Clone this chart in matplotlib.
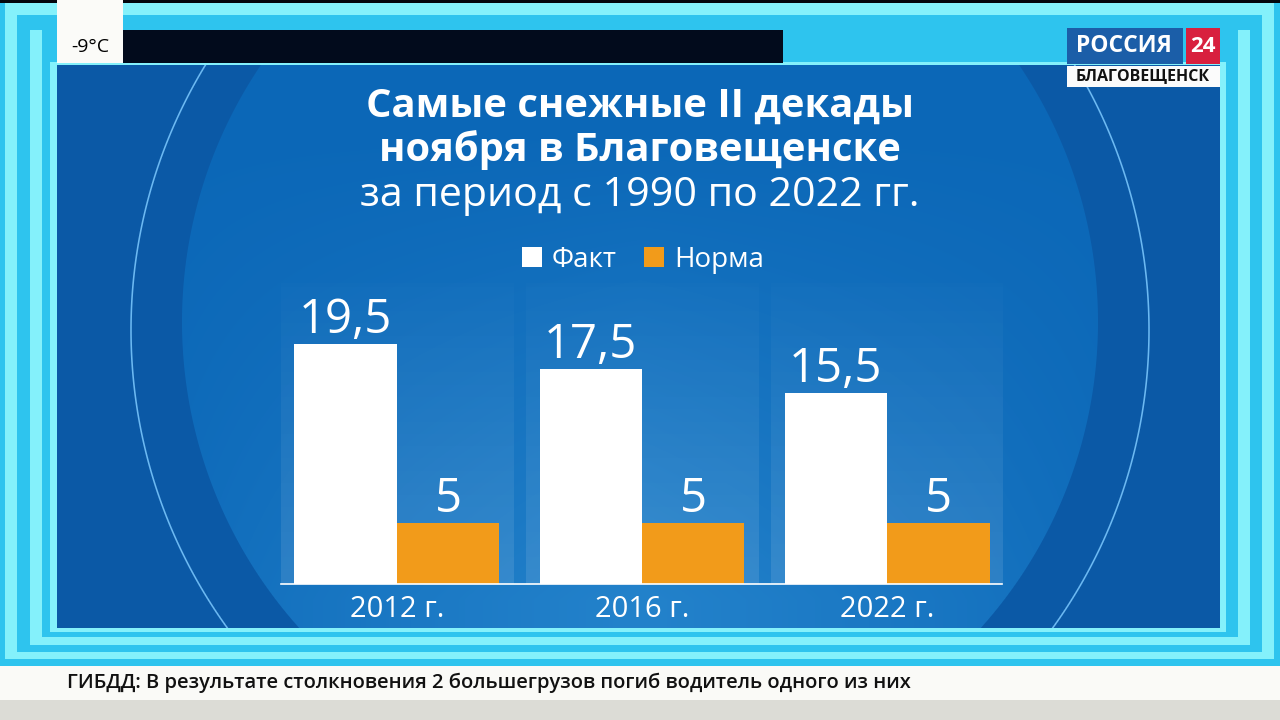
import numpy as np
import matplotlib
matplotlib.use('Agg')
import matplotlib.pyplot as plt

# ---------------- data ----------------
years = ['2012 г.', '2016 г.', '2022 г.']
fact = [19.5, 17.5, 15.5]
norm = [5, 5, 5]
fact_labels = ['19,5', '17,5', '15,5']
norm_labels = ['5', '5', '5']
series_names = ['Факт', 'Норма']
title_lines = ['Самые снежные II декады', 'ноября в Благовещенске']
subtitle = 'за период с 1990 по 2022 гг.'
ticker = 'ГИБДД: В результате столкновения 2 большегрузов погиб водитель одного из них'
temperature = '-9°C'
logo_main = 'РОССИЯ'
logo_num = '24'
logo_city = 'БЛАГОВЕЩЕНСК'

plt.rcParams['font.family'] = ['Open Sans', 'DejaVu Sans']

W, H = 1280, 720
fig = plt.figure(figsize=(12.8, 7.2), dpi=100)

# ---------------- background (broadcast frame) ----------------
bg = fig.add_axes([0, 0, 1, 1])
bg.set_xlim(0, W)
bg.set_ylim(H, 0)
bg.axis('off')


def rgb(h):
    return np.array([int(h[i:i + 2], 16) for i in (1, 3, 5)]) / 255.0


img = np.zeros((H, W, 3))


def fill(x0, y0, x1, y1, c):
    img[y0:y1, x0:x1] = rgb(c)


C1, C2 = '#2ec4ee', '#84f1fb'
fill(0, 0, W, 666, C1)
fill(5, 3, 1274, 659, C2)
fill(17, 15, 1262, 652, C1)
fill(30, 30, 1250, 645, C2)
fill(42, 30, 1238, 637, C1)
fill(50, 62, 1226, 632, C2)
fill(0, 0, W, 3, '#03060c')

# panel with circles
px0, py0, px1, py1 = 57, 65, 1220, 628
yy, xx = np.mgrid[py0:py1, px0:px1] + 0.5
outer = rgb('#0b59a6')
panel = np.ones(xx.shape + (3,)) * outer
d_in = np.hypot(xx - 640, yy - 322)
m_in = np.clip(458 - d_in + 0.5, 0, 1)[..., None]
t = (np.clip((yy - 120) / 480, 0, 1) * np.clip(1 - np.abs(xx - 640) / 520, 0, 1) ** 0.7)[..., None]
inner = rgb('#0b67b7') * (1 - t) + rgb('#2382cb') * t
panel = panel * (1 - m_in) + inner * m_in
d_arc = np.hypot(xx - 640, yy - 330)
a_arc = np.clip(1.3 - np.abs(d_arc - 509), 0, 1)[..., None]
panel = panel * (1 - a_arc) + rgb('#6cb9f2') * a_arc
img[py0:py1, px0:px1] = panel

# top bar, temperature box, logo boxes, ticker
fill(123, 30, 783, 63, '#020b1c')
fill(57, 0, 123, 63, '#fbfbf8')
fill(1067, 28, 1183, 64, '#1b5ea8')
fill(1186, 28, 1220, 64, '#d8203e')
fill(1067, 66, 1220, 87, '#fbfbfb')
fill(0, 666, W, 700, '#fafaf7')
fill(0, 700, W, H, '#dcdcd6')

bg.imshow(img, extent=(0, W, H, 0), aspect='auto', interpolation='bilinear', zorder=0)

# texts on the frame
bg.text(90, 47, temperature, ha='center', va='center', fontsize=14, color='black')
bg.text(1124, 46, logo_main, ha='center', va='center', fontsize=16.5, fontweight='bold', color='white')
bg.text(1203, 46, logo_num, ha='center', va='center', fontsize=16, fontweight='bold', color='white')
bg.text(1143, 76, logo_city, ha='center', va='center', fontsize=11.5, fontweight='bold', color='#111111')
bg.text(67, 683, ticker, ha='left', va='center', fontsize=14.5, fontweight='semibold', color='#111111')

# titles
bg.text(640, 117, title_lines[0], ha='center', va='baseline', fontsize=28.8, fontweight='bold', color='white')
bg.text(640, 161, title_lines[1], ha='center', va='baseline', fontsize=28.8, fontweight='bold', color='white')
bg.text(640, 206, subtitle, ha='center', va='baseline', fontsize=29.6, color='white')

# ---------------- chart ----------------
px_per_unit = 12.3
ax_top_px = 283
ax = fig.add_axes([281 / W, (H - 584) / H, 721 / W, (584 - ax_top_px) / H])
ax.patch.set_alpha(0)
ymax = (584 - ax_top_px) / px_per_unit
ax.set_xlim(-0.473, 2.469)
ax.set_ylim(0, ymax)

x = np.arange(len(years))
w = 0.418

# faint column backgrounds
grad = np.zeros((64, 2, 4))
grad[..., :3] = 1.0
grad[..., 3] = np.linspace(0.11, 0.015, 64)[:, None]
for xi in x:
    ax.imshow(grad, extent=(xi - 0.475, xi + 0.475, 0, ymax), aspect='auto',
              origin='lower', zorder=1, interpolation='bilinear')

b1 = ax.bar(x - w / 2, fact, w, color='white', label=series_names[0], zorder=3)
b2 = ax.bar(x + w / 2, norm, w, color='#f29b1a', label=series_names[1], zorder=3)
ax.bar_label(b1, labels=fact_labels, padding=0, color='white', fontsize=34, fontweight='medium')
ax.bar_label(b2, labels=norm_labels, padding=0, color='white', fontsize=34, fontweight='medium')

for s in ['top', 'left', 'right']:
    ax.spines[s].set_visible(False)
ax.spines['bottom'].set_color('white')
ax.spines['bottom'].set_linewidth(1.2)
ax.spines['bottom'].set_zorder(4)
ax.set_yticks([])
ax.set_xticks(x, years)
ax.tick_params(axis='x', length=0, pad=8, labelsize=21, labelcolor='white')

ax.legend(handles=[b1, b2], loc='center', bbox_to_anchor=(643 / W, 1 - 260 / H),
          bbox_transform=fig.transFigure, ncol=2, frameon=False, fontsize=20,
          labelcolor='white', handlelength=0.72, handleheight=0.72,
          handletextpad=0.35, columnspacing=1.0)

fig.savefig('out.png', dpi=100)
